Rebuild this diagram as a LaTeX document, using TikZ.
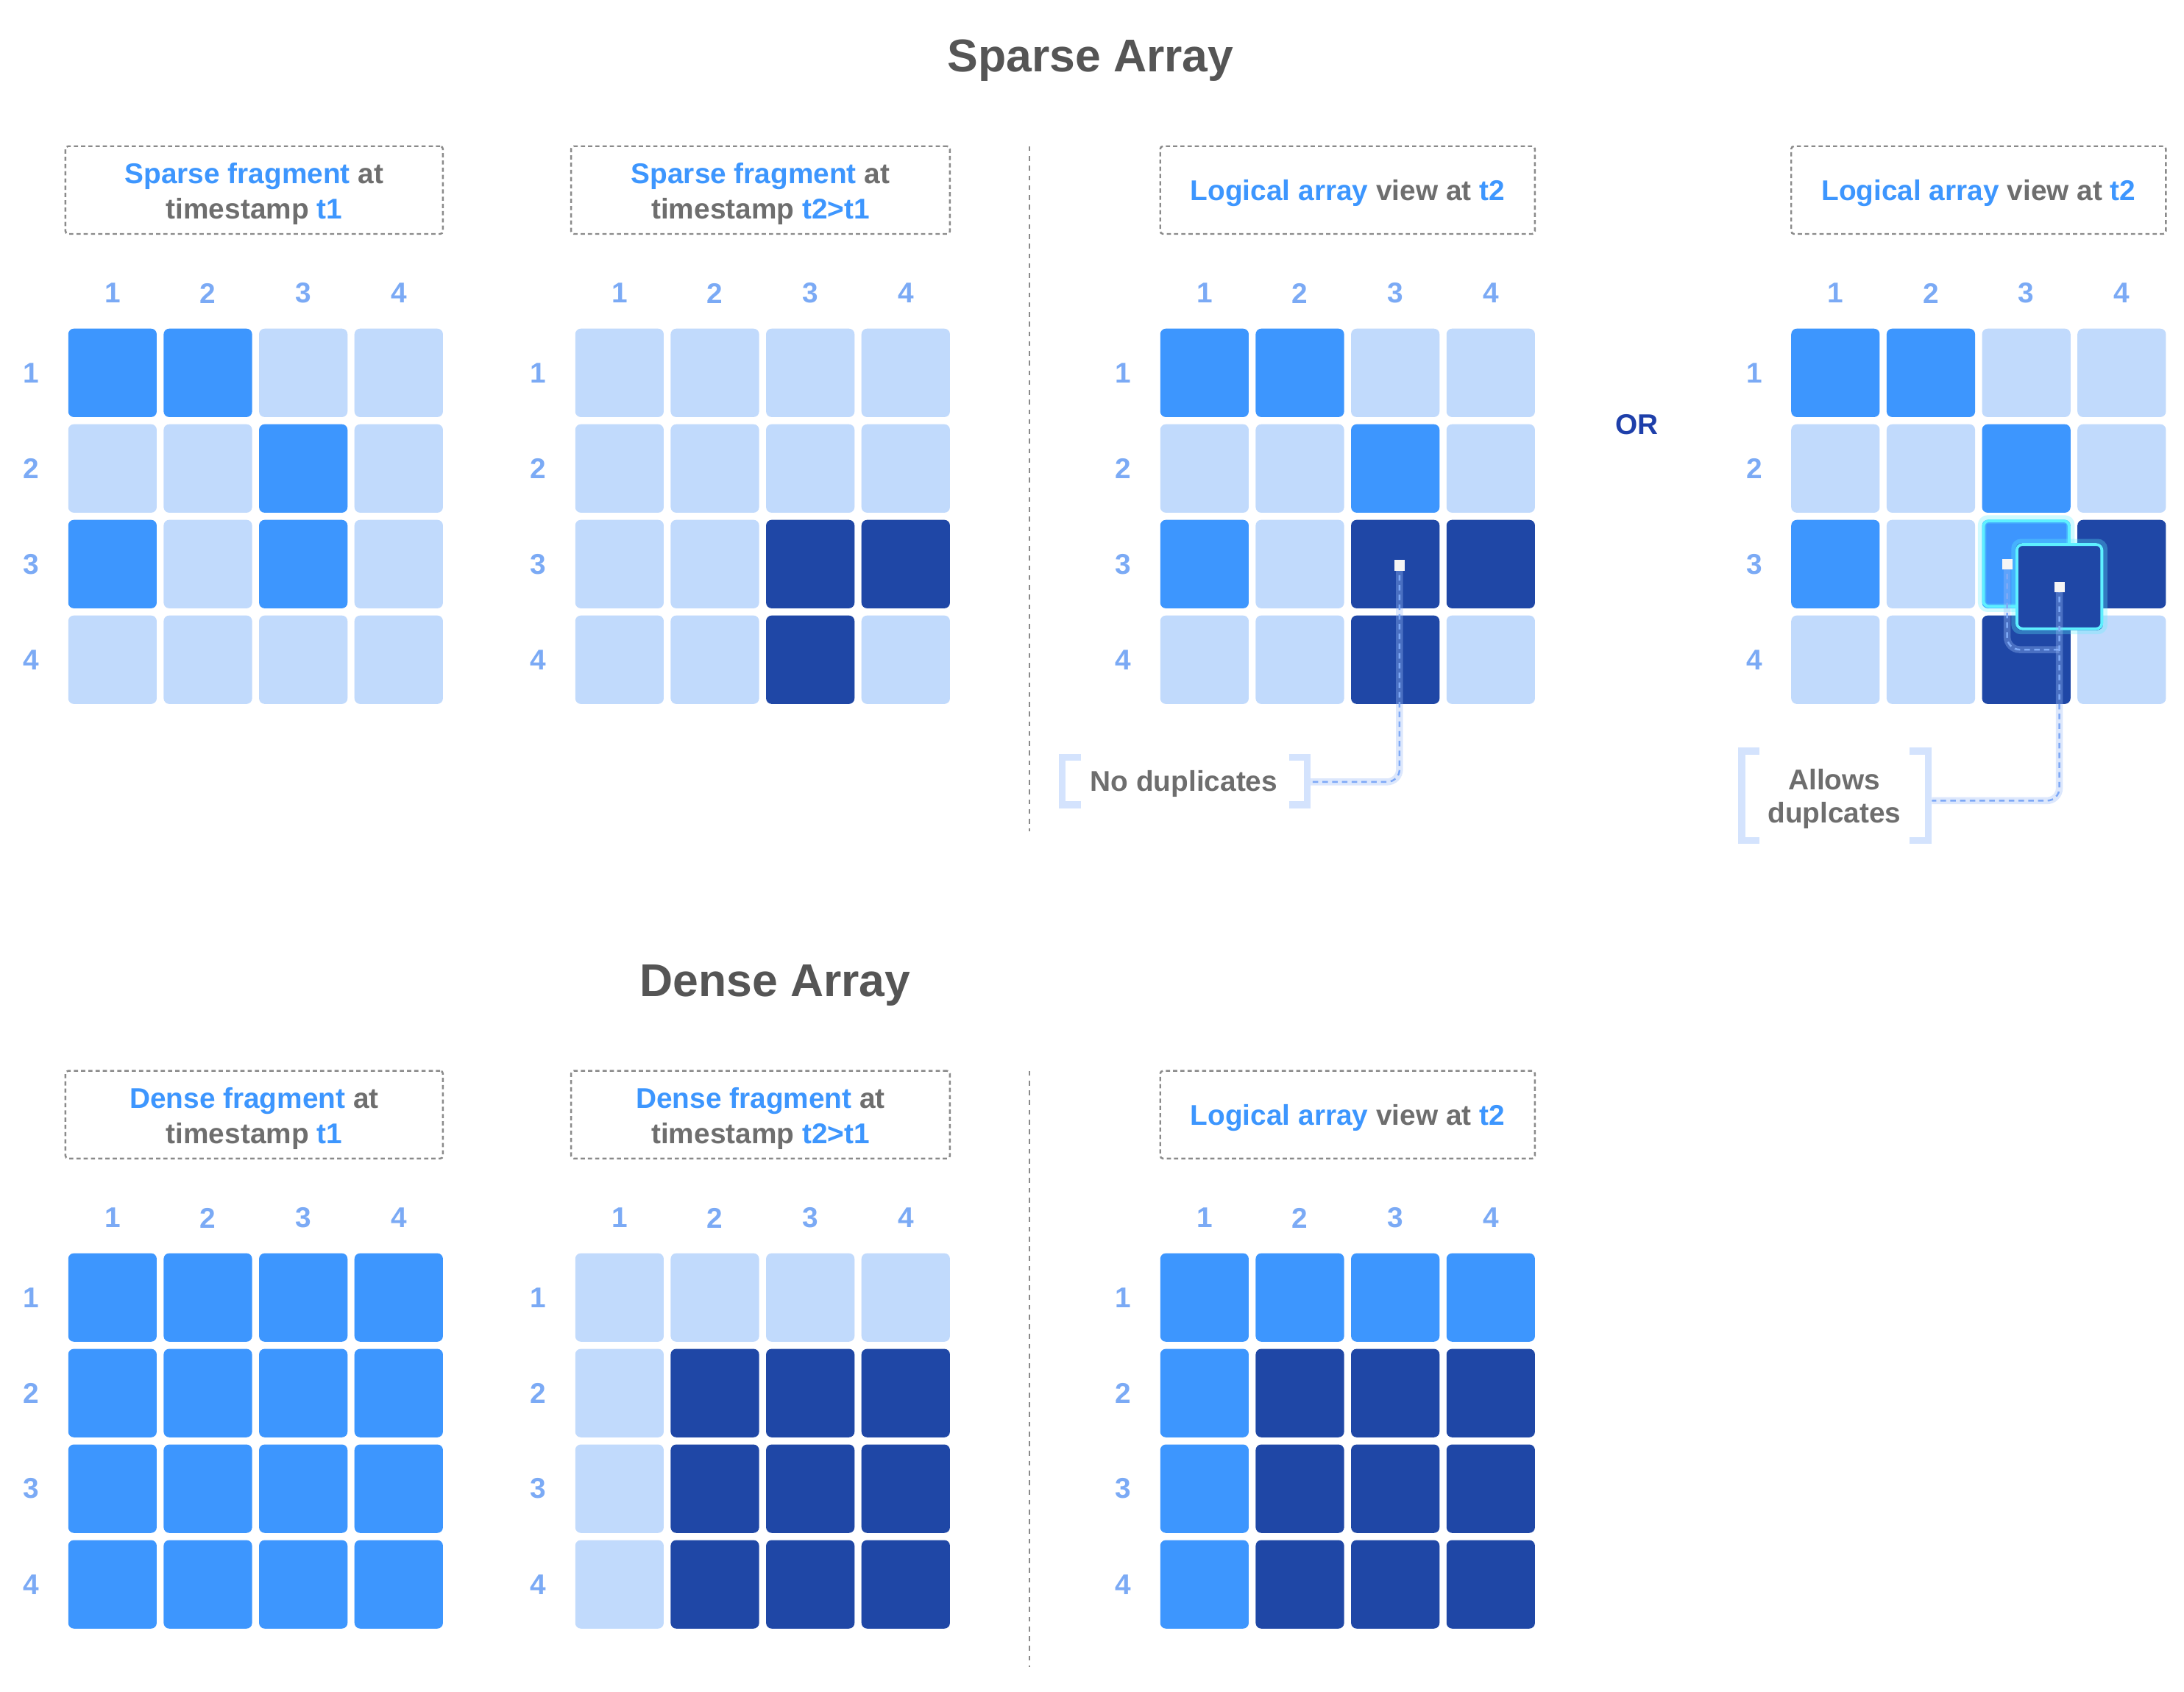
\documentclass[tikz,border=0pt]{standalone}
\usepackage{fontspec}
\setmainfont{Liberation Sans}
\definecolor{cM}{HTML}{3D96FE}
\definecolor{cL}{HTML}{C1DAFC}
\definecolor{cD}{HTML}{1F47A6}
\definecolor{numc}{HTML}{7BAAF5}
\definecolor{titc}{HTML}{555555}
\definecolor{grc}{HTML}{6E6E6E}
\definecolor{blc}{HTML}{3D96FE}
\definecolor{orc}{HTML}{1E3FAA}
\definecolor{dashc}{HTML}{8A8A8A}
\definecolor{brc}{HTML}{D4E3FD}
\definecolor{conc}{HTML}{7EA9F7}
\definecolor{haloc}{HTML}{9DBDF7}
\definecolor{cyanc}{HTML}{5EF0FF}
\newcommand\fsz{\fontsize{20.5bp}{25bp}\selectfont}
\newcommand\tsz{\fontsize{33bp}{40bp}\selectfont}
\newcommand\bl[1]{\textcolor{blc}{#1}}
\tikzset{
 cell/.style={rectangle, rounded corners=4bp, minimum size=63.5bp, inner sep=0pt, draw=none},
 num/.style={font=\fsz\bfseries, text=numc, inner sep=0pt},
 lbl/.style={font=\fsz\bfseries, text=grc, inner sep=0pt, anchor=base},
 ttl/.style={font=\tsz\bfseries, text=titc, inner sep=0pt, anchor=base},
 fbox/.style={rectangle, draw=dashc, line width=1.3bp, dash pattern=on 3bp off 2.2bp, rounded corners=2bp, inner sep=0pt, minimum height=63bp},
 divl/.style={draw=dashc, line width=1.2bp, dash pattern=on 3.5bp off 3.5bp},
 brk/.style={draw=brc, line width=5bp, miter limit=10},
 halo/.style={draw=haloc, opacity=0.35, line width=5bp, rounded corners=9bp},
 conn/.style={draw=conc, line width=1.3bp, dash pattern=on 4bp off 3bp, rounded corners=9bp},
 dotn/.style={rectangle, fill=white!96!black, minimum size=7.5bp, inner sep=0pt},
 glow/.style={draw=cyanc, opacity=0.3, line width=6bp, rounded corners=4bp},
 cyb/.style={draw=cyanc, line width=2bp, rounded corners=4bp},
}
% #1 name, #2 left x, #3 top y, #4 colour list
\newcommand{\drawgrid}[4]{%
 \foreach \cc [count=\i from 0] in {#4} {
   \pgfmathtruncatemacro\rr{div(\i,4)}
   \pgfmathtruncatemacro\kk{mod(\i,4)}
   \pgfmathsetmacro\xx{#2+31.75+68.5*\kk}
   \pgfmathsetmacro\yy{#3+31.75+68.67*\rr}
   \node[cell, fill=c\cc] (#1-\rr-\kk) at (\xx,\yy) {};
 }
 \foreach \k in {1,...,4} {
   \pgfmathsetmacro\xx{#2+31.75+68.5*(\k-1)}
   \pgfmathsetmacro\yy{#3+31.75+68.67*(\k-1)}
   \node[num] (#1-c\k) at (\xx,#3-25.4) {\k};
   \node[num] (#1-r\k) at (#2-26.5,\yy) {\k};
 }
}
\begin{document}
\begin{tikzpicture}[x=1bp, y=-1bp]
\useasboundingbox[fill=white] (0,0) rectangle (1568,1215);

% ---------- Sparse ----------
\node[ttl] (tsparse) at (783,51.4) {Sparse Array};

\node[fbox, minimum width=271bp] (box1) at (182.5,136.5) {};
\node[lbl] (box1a) at (182.5,132) {\bl{Sparse fragment} at};
\node[lbl] (box1b) at (182.5,157) {timestamp \bl{t1}};
\node[fbox, minimum width=272bp] (box2) at (546,136.5) {};
\node[lbl] (box2a) at (546,132) {\bl{Sparse fragment} at};
\node[lbl] (box2b) at (546,157) {timestamp \bl{t2>t1}};
\node[fbox, minimum width=269bp] (box3) at (967.5,136.5) {};
\node[lbl] (box3a) at (967.5,144) {\bl{Logical array} view at \bl{t2}};
\node[fbox, minimum width=269bp] (box4) at (1420.5,136.5) {};
\node[lbl] (box4a) at (1420.5,144) {\bl{Logical array} view at \bl{t2}};

\drawgrid{ga}{49}{236}{M,M,L,L, L,L,M,L, M,L,M,L, L,L,L,L}
\drawgrid{gb}{413}{236}{L,L,L,L, L,L,L,L, L,L,D,D, L,L,D,L}
\drawgrid{gc}{833}{236}{M,M,L,L, L,L,M,L, M,L,D,D, L,L,D,L}
\drawgrid{gd}{1286}{236}{M,M,L,L, L,L,M,L, M,L,M,D, L,L,D,L}

\draw[divl] (739,105) -- (739,597);

\node[font=\fsz\bfseries, text=orc, inner sep=0pt] (or) at (1175,305) {OR};

% No duplicates
\draw[brk] (776,544) -- (762.5,544) -- (762.5,578) -- (776,578);
\draw[brk] (925.5,544) -- (938.5,544) -- (938.5,578) -- (925.5,578);
\node[lbl] (nodup) at (850,568) {No duplicates};
\coordinate (dupc) at (1004.8,406);
\coordinate (nodupr) at (941,561.5);
\draw[halo] (dupc) |- (nodupr);
\draw[conc, conn] (dupc) |- (nodupr);
\node[dotn] (dup) at (dupc) {};

% Allows duplicates
\draw[glow] (1423,373) rectangle (1486.5,436.5);
\draw[cyb] (1424,374) rectangle (1485.5,435.5);
\coordinate (dac) at (1441,405);
\coordinate (joinc) at (1478.5,466.5);
\draw[halo] (dac) |- (joinc);
\draw[conn] (dac) |- (joinc);
\draw[glow] (1447,390) rectangle (1510,452.5);
\node[cell, fill=cD, minimum size=62.5bp] (ovl) at (1478.5,421.25) {};
\draw[cyb] (1448,391) rectangle (1509,451.5);
\draw[brk] (1263,539.5) -- (1250.5,539.5) -- (1250.5,603.5) -- (1263,603.5);
\draw[brk] (1371,539.5) -- (1384.5,539.5) -- (1384.5,603.5) -- (1371,603.5);
\node[lbl] (allowa) at (1317,567) {Allows};
\node[lbl] (allowb) at (1317,591) {duplcates};
\coordinate (dbc) at (1478.5,421.5);
\coordinate (allowr) at (1387,575);
\draw[halo] (dbc) |- (allowr);
\draw[conn] (dbc) |- (allowr);
\node[dotn] (da) at (dac) {};
\node[dotn] (db) at (dbc) {};

% ---------- Dense ----------
\node[ttl] (tdense) at (556.5,715.4) {Dense Array};

\node[fbox, minimum width=271bp] (box5) at (182.5,800.5) {};
\node[lbl] (box5a) at (182.5,796) {\bl{Dense fragment} at};
\node[lbl] (box5b) at (182.5,821) {timestamp \bl{t1}};
\node[fbox, minimum width=272bp] (box6) at (546,800.5) {};
\node[lbl] (box6a) at (546,796) {\bl{Dense fragment} at};
\node[lbl] (box6b) at (546,821) {timestamp \bl{t2>t1}};
\node[fbox, minimum width=269bp] (box7) at (967.5,800.5) {};
\node[lbl] (box7a) at (967.5,808) {\bl{Logical array} view at \bl{t2}};

\drawgrid{gx}{49}{900}{M,M,M,M, M,M,M,M, M,M,M,M, M,M,M,M}
\drawgrid{gy}{413}{900}{L,L,L,L, L,D,D,D, L,D,D,D, L,D,D,D}
\drawgrid{gz}{833}{900}{M,M,M,M, M,D,D,D, M,D,D,D, M,D,D,D}

\draw[divl] (739,769) -- (739,1197);
\end{tikzpicture}
\end{document}
